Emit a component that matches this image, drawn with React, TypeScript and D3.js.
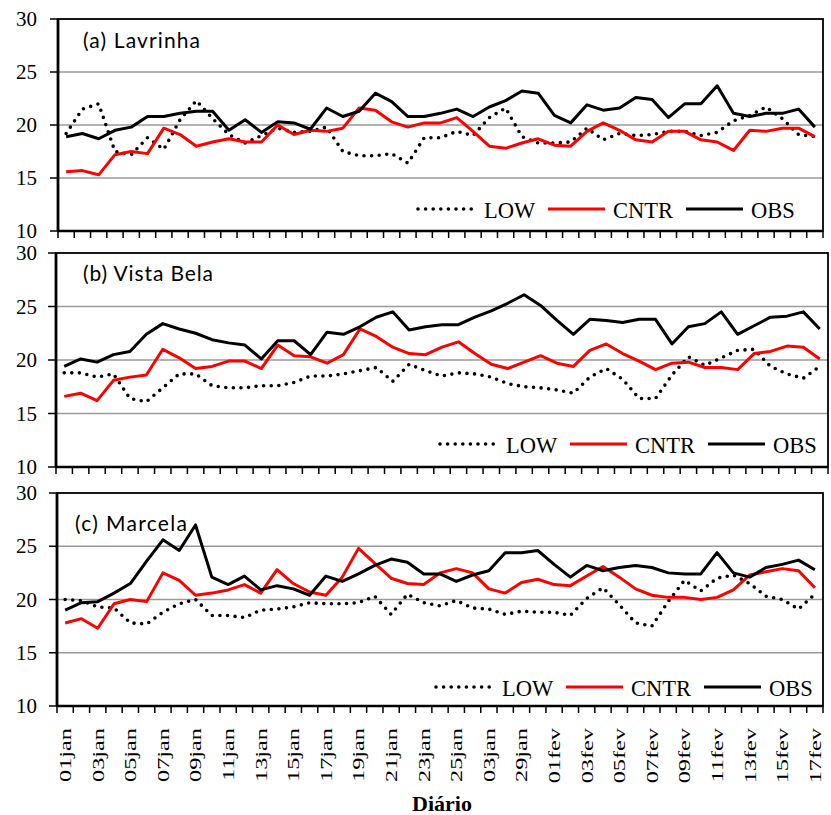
import React from 'react'
import * as d3 from 'd3'

// tick labels every other day (as printed in the original)
const tickLabels = [
  '01jan', '03jan', '05jan', '07jan', '09jan', '11jan', '13jan', '15jan',
  '17jan', '19jan', '21jan', '23jan', '25jan', '03jan', '29jan', '01fev',
  '03fev', '05fev', '07fev', '09fev', '11fev', '13fev', '15fev', '17fev',
]
const nDays = 47
const yTicks = [10, 15, 20, 25, 30]
const gridValues = [15, 20, 25]
const seriesNames = ['LOW', 'CNTR', 'OBS']

// (a) Lavrinha
const lowA = [19.2, 21.5, 22.0, 17.5, 17.2, 18.8, 17.7, 20.5, 22.3, 20.6, 19.1, 18.3, 19.0, 19.7, 19.3, 19.4, 19.8, 17.5, 17.1, 17.1, 17.3, 16.4,
  18.8, 18.8, 19.4, 19.0, 20.7, 21.6, 18.9, 18.3, 18.3, 18.4, 19.7, 18.6, 19.2, 19.0, 19.1, 19.4, 19.4, 19.0, 19.3, 20.4, 20.9, 21.7, 20.6, 19.1, 18.9]
const cntrA = [15.6, 15.7, 15.3, 17.2, 17.5, 17.3, 19.7, 19.1, 18.0, 18.4, 18.7, 18.4, 18.4, 20.0, 19.1, 19.5, 19.4, 19.7, 21.6, 21.4, 20.3, 19.8,
  20.2, 20.2, 20.7, 19.4, 18.0, 17.8, 18.3, 18.7, 18.1, 18.0, 19.4, 20.2, 19.5, 18.6, 18.4, 19.4, 19.4, 18.6, 18.4, 17.6, 19.5, 19.4, 19.7, 19.7, 18.9]
const obsA = [18.9, 19.2, 18.7, 19.5, 19.8, 20.8, 20.8, 21.1, 21.3, 21.3, 19.5, 20.5, 19.3, 20.3, 20.2, 19.6, 21.6, 20.8, 21.3, 23.0, 22.2, 20.8,
  20.8, 21.1, 21.5, 20.8, 21.7, 22.3, 23.2, 23.0, 20.9, 20.2, 21.9, 21.4, 21.6, 22.6, 22.4, 20.7, 22.0, 22.0, 23.7, 21.1, 20.8, 21.1, 21.1, 21.5, 19.8]

// (b) Vista Bela
const lowB = [18.8, 18.8, 18.4, 18.7, 16.4, 16.1, 17.4, 18.7, 18.7, 17.6, 17.4, 17.4, 17.6, 17.6, 17.9, 18.5, 18.5, 18.7, 19.0, 19.3, 18.0, 19.6,
  19.0, 18.5, 18.8, 18.7, 18.4, 17.8, 17.5, 17.4, 17.2, 16.9, 18.4, 19.2, 18.2, 16.4, 16.4, 18.6, 20.3, 19.5, 20.2, 20.9, 21.0, 19.4, 18.7, 18.3, 19.4]
const cntrB = [16.6, 16.9, 16.2, 18.1, 18.4, 18.6, 21.0, 20.2, 19.2, 19.4, 19.9, 19.9, 19.2, 21.4, 20.4, 20.3, 19.7, 20.5, 22.9, 22.2, 21.2, 20.6,
  20.5, 21.2, 21.7, 20.6, 19.6, 19.2, 19.8, 20.4, 19.7, 19.4, 20.9, 21.5, 20.6, 19.9, 19.1, 19.7, 19.8, 19.3, 19.3, 19.1, 20.6, 20.8, 21.3, 21.2, 20.1]
const obsB = [19.4, 20.1, 19.8, 20.5, 20.8, 22.4, 23.4, 22.9, 22.5, 21.9, 21.6, 21.4, 20.1, 21.8, 21.8, 20.5, 22.6, 22.4, 23.1, 24.0, 24.5, 22.8,
  23.1, 23.3, 23.3, 24.0, 24.6, 25.3, 26.1, 25.1, 23.7, 22.4, 23.8, 23.7, 23.5, 23.8, 23.8, 21.5, 23.1, 23.4, 24.5, 22.4, 23.2, 24.0, 24.1, 24.5, 22.9]

// (c) Marcela
const lowC = [20.0, 19.9, 19.3, 19.2, 17.8, 17.7, 18.8, 19.6, 20.0, 18.5, 18.5, 18.3, 19.0, 19.1, 19.3, 19.7, 19.6, 19.6, 19.7, 20.3, 18.6, 20.5,
  19.7, 19.4, 19.9, 19.2, 19.1, 18.6, 18.9, 18.8, 18.8, 18.5, 20.1, 21.1, 19.5, 17.8, 17.5, 19.8, 21.8, 20.8, 22.0, 22.3, 21.5, 20.3, 20.0, 19.1, 20.5]
const cntrC = [17.8, 18.2, 17.3, 19.6, 20.0, 19.8, 22.5, 21.8, 20.4, 20.6, 20.9, 21.4, 20.6, 22.8, 21.5, 20.7, 20.4, 22.1, 24.8, 23.4, 22.0, 21.5,
  21.4, 22.5, 22.9, 22.5, 21.0, 20.6, 21.6, 21.9, 21.4, 21.3, 22.2, 23.1, 22.1, 21.0, 20.4, 20.2, 20.2, 20.0, 20.2, 20.9, 22.3, 22.6, 22.9, 22.7, 21.1]
const obsC = [19.0, 19.7, 19.8, 20.6, 21.5, 23.6, 25.6, 24.6, 27.0, 22.1, 21.4, 22.2, 20.9, 21.3, 21.0, 20.4, 22.2, 21.7, 22.4, 23.2, 23.8, 23.5,
  22.4, 22.4, 21.7, 22.3, 22.7, 24.4, 24.4, 24.6, 23.3, 22.1, 23.2, 22.7, 23.0, 23.2, 23.0, 22.5, 22.4, 22.4, 24.4, 22.5, 22.1, 23.0, 23.3, 23.7, 22.8]

// layout of the three stacked panels
const panels = [
  { title: '(a) Lavrinha', titleW: 117, series: [lowA, cntrA, obsA], left: 58, right: 823, top: 19, bottom: 231, titleX: 83, titleY: 48, legendX: 418, legendY: 209 },
  { title: '(b) Vista Bela', titleW: 130, series: [lowB, cntrB, obsB], left: 56, right: 828, top: 253, bottom: 467, titleX: 83, titleY: 281, legendX: 440, legendY: 444 },
  { title: '(c) Marcela', titleW: 112, series: [lowC, cntrC, obsC], left: 57, right: 823, top: 493, bottom: 706, titleX: 75, titleY: 531, legendX: 436, legendY: 687 },
]

const styles = [
  { stroke: '#000', width: 3.6, dash: '0 7.6', cap: 'round' },
  { stroke: '#ff0000', width: 3, dash: undefined, cap: 'butt' },
  { stroke: '#000', width: 3, dash: undefined, cap: 'butt' },
]
const serif = '"Liberation Serif", "Times New Roman", serif'

const Panel = ({ p, showLabels }) => {
  const x = d3.scaleBand<number>().domain(d3.range(nDays)).range([p.left, p.right])
  const bw = x.bandwidth()
  const y = d3.scaleLinear().domain([10, 30]).range([p.bottom, p.top])
  const cx = (i: number) => (x(i) as number) + bw / 2
  const line = d3.line<number>().x((_, i) => cx(i)).y(d => y(d))
  const legendOffsets = [0, 130, 268]
  const textOffsets = [66, 195, 333]

  return (
    <g>
      {gridValues.map(v => (
        <line key={v} x1={p.left} x2={p.right} y1={y(v)} y2={y(v)} stroke="#9a9a9a" strokeWidth={1.5} />
      ))}
      <rect x={p.left} y={p.top} width={p.right - p.left} height={p.bottom - p.top} fill="none" stroke="#000" strokeWidth={1.8} />
      <line x1={p.left} x2={p.left} y1={p.top} y2={p.bottom} stroke="#000" strokeWidth={2.8} />
      <line x1={p.left} x2={p.right} y1={p.bottom} y2={p.bottom} stroke="#000" strokeWidth={2.5} />
      {yTicks.map(v => (
        <g key={v}>
          <line x1={p.left - 8} x2={p.left} y1={y(v)} y2={y(v)} stroke="#000" strokeWidth={1.5} />
          <text x={37} y={y(v) + 7} textAnchor="end" fontFamily={serif} fontSize={21}>{v}</text>
        </g>
      ))}
      {d3.range(nDays + 1).map(i => (
        <line key={i} x1={p.left + i * bw} x2={p.left + i * bw} y1={p.bottom} y2={p.bottom + 7} stroke="#000" strokeWidth={1.5} />
      ))}
      {p.series.map((s, k) => (
        <path key={k} d={line(s) || ''} fill="none" stroke={styles[k].stroke} strokeWidth={styles[k].width}
          strokeDasharray={styles[k].dash} strokeLinecap={styles[k].cap} strokeLinejoin="round" />
      ))}
      <text x={p.titleX} y={p.titleY} fontFamily="Lato, 'Open Sans', sans-serif" fontSize={21} textLength={p.titleW}>{p.title}</text>
      {seriesNames.map((name, k) => (
        <g key={name}>
          <line x1={p.legendX + legendOffsets[k]} x2={p.legendX + legendOffsets[k] + 57} y1={p.legendY} y2={p.legendY}
            stroke={styles[k].stroke} strokeWidth={styles[k].width} strokeDasharray={styles[k].dash} strokeLinecap={styles[k].cap} />
          <text x={p.legendX + textOffsets[k]} y={p.legendY + 9} fontFamily={serif} fontSize={22.5}>{name}</text>
        </g>
      ))}
      {showLabels && tickLabels.map((t, j) => (
        <text key={j} transform={`translate(${cx(j * 2)},728) rotate(-90) scale(1.43,1)`} textAnchor="end" dy="0.35em"
          fontFamily={serif} fontSize={17}>{t}</text>
      ))}
    </g>
  )
}

export default function App() {
  return (
    <svg width={831} height={815} viewBox="0 0 831 815" style={{ position: 'absolute', left: 0, top: 0, background: '#fff' }}>
      <rect width={831} height={815} fill="#fff" />
      {panels.map((p, i) => <Panel key={i} p={p} showLabels={i === 2} />)}
      <text x={442} y={811} textAnchor="middle" fontFamily={serif} fontSize={22} fontWeight="bold">Diário</text>
    </svg>
  )
}
